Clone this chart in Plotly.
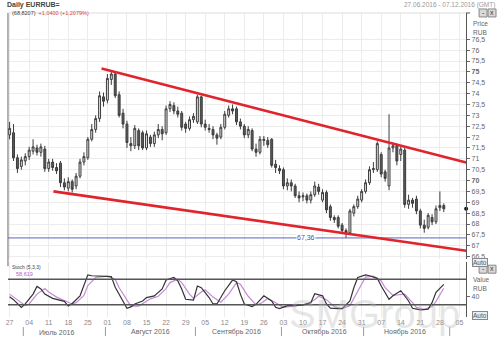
import plotly.graph_objects as go
import pandas as pd

# ---------------- data ----------------
opens = [72.1, 72.2, 71.05, 70.65, 70.9, 71.1, 71.35, 71.5, 71.3, 71.45,
         70.55, 70.85, 70.6, 70.8, 69.9, 69.65, 69.95, 69.75, 70.2, 70.85,
         71.05, 71.9, 72.35, 72.85, 73.85, 73.7, 74.65, 74.9, 73.95, 73.1,
         72.6, 71.7, 71.6, 72.3, 72.2, 71.5, 72.0, 71.7, 72.1, 72.35,
         72.2, 73.3, 73.45, 73.2, 73.1, 72.6, 72.4, 72.8, 72.7, 73.85,
         72.6, 72.4, 72.35, 72.1, 72.0, 72.45, 73.0, 73.3, 73.3, 72.7,
         72.5, 72.1, 72.3, 71.45, 71.3, 71.9, 71.85, 71.9, 70.75, 70.55,
         70.5, 69.75, 69.9, 69.75, 69.3, 69.25, 69.3, 69.1, 69.35, 69.7,
         69.1, 69.45, 68.8, 68.3, 68.3, 67.95, 67.7, 67.6, 68.5, 68.8,
         69.1, 69.5, 69.9, 70.5, 70.5, 71.2, 70.4, 69.75, 71.5, 71.6,
         71.2, 71.4, 68.9, 69.1, 69.15, 68.6, 67.95, 67.85, 68.3, 68.1,
         68.75, 68.85]
closes = [72.4, 71.05, 70.55, 70.95, 71.1, 71.4, 71.55, 71.3, 71.55, 70.55,
          70.85, 70.6, 70.45, 69.9, 69.7, 69.95, 69.6, 70.2, 70.85, 71.1,
          71.9, 72.35, 72.85, 73.9, 73.65, 74.7, 74.9, 73.9, 73.0, 72.6,
          71.75, 71.6, 72.4, 71.6, 71.5, 72.15, 71.7, 72.1, 72.35, 72.15,
          73.3, 73.5, 73.2, 73.05, 72.45, 72.4, 72.8, 72.95, 73.85, 72.6,
          72.45, 72.35, 72.1, 71.95, 72.45, 73.05, 73.3, 73.2, 72.7, 72.5,
          72.1, 72.35, 71.45, 71.3, 71.9, 71.85, 71.65, 70.7, 70.6, 70.45,
          69.75, 69.9, 69.75, 69.3, 69.2, 69.3, 69.1, 69.35, 69.75, 69.5,
          69.45, 68.65, 68.3, 68.2, 67.9, 67.7, 67.6, 68.6, 68.8, 69.15,
          69.5, 69.9, 70.5, 70.55, 71.7, 70.3, 70.1, 71.5, 71.6, 70.9,
          71.45, 68.9, 69.1, 68.95, 68.6, 67.95, 67.8, 68.4, 68.1, 68.7,
          68.85, 68.7]
highs = [72.7, 72.6, 71.2, 71.1, 71.25, 71.55, 71.9, 71.65, 71.7, 71.6,
         71.0, 71.0, 70.8, 70.9, 70.1, 70.15, 70.05, 70.35, 71.0, 71.3,
         72.0, 72.6, 73.0, 74.1, 74.05, 74.9, 75.05, 75.0, 74.1, 73.3,
         72.75, 72.0, 72.55, 72.4, 72.3, 72.3, 72.1, 72.25, 72.6, 72.5,
         73.45, 73.65, 73.6, 73.4, 73.2, 72.7, 72.95, 73.1, 73.95, 73.9,
         72.8, 72.6, 72.5, 72.2, 72.6, 73.2, 73.45, 73.5, 73.4, 72.85,
         72.6, 72.5, 72.4, 71.7, 72.05, 72.05, 72.0, 71.95, 70.95, 70.7,
         70.6, 70.1, 70.05, 69.85, 69.5, 69.45, 69.4, 69.5, 69.95, 69.85,
         69.6, 69.55, 68.9, 68.4, 68.4, 68.05, 67.8, 68.7, 68.9, 69.3,
         69.6, 70.05, 70.65, 70.85, 71.8, 71.3, 70.5, 73.05, 71.75, 71.7,
         71.55, 71.5, 69.35, 69.2, 69.3, 68.7, 68.2, 68.5, 68.45, 68.85,
         69.5, 68.95]
lows = [71.9, 70.9, 70.35, 70.5, 70.7, 70.95, 71.2, 71.15, 71.1, 70.4,
        70.4, 70.45, 70.3, 69.7, 69.55, 69.5, 69.45, 69.6, 70.1, 70.7,
        70.95, 71.8, 72.2, 72.7, 73.4, 73.55, 74.4, 73.8, 72.9, 72.4,
        71.5, 71.35, 71.45, 71.4, 71.4, 71.4, 71.55, 71.55, 71.95, 71.85,
        72.1, 73.15, 73.05, 72.9, 72.3, 72.2, 72.3, 72.65, 72.6, 72.45,
        72.3, 72.2, 71.9, 71.65, 71.9, 72.35, 72.9, 73.05, 72.55, 72.35,
        71.95, 71.95, 71.35, 71.1, 71.2, 71.6, 71.5, 70.6, 70.35, 70.3,
        69.6, 69.55, 69.5, 69.2, 69.0, 69.05, 68.95, 68.95, 69.25, 69.35,
        69.0, 68.5, 68.15, 68.05, 67.8, 67.55, 67.36, 67.5, 68.35, 68.7,
        69.0, 69.4, 69.8, 70.35, 70.4, 70.15, 69.95, 69.55, 71.3, 70.7,
        70.9, 68.75, 68.7, 68.75, 68.45, 67.8, 67.6, 67.75, 67.95, 68.0,
        68.6, 68.55]

# stochastic (5,3,3) readings: trading-day index -> value
k_days = [0, 1, 3, 4, 6, 7, 8, 9, 11, 13, 14, 15, 16, 18, 19, 20, 21, 24, 26, 27,
          29, 30, 31, 32, 34, 35, 37, 39, 40, 42, 43, 44, 45, 47, 48, 49, 51, 52, 53, 55,
          57, 58, 59, 60, 62, 63, 65, 67, 68, 69, 71, 73, 75, 77, 78, 80, 81, 82, 84, 85,
          87, 88, 89, 91, 92, 94, 95, 97, 98, 100, 102, 103, 105, 107, 108, 109, 111]
k_vals = [39, 32, 14, 22, 45, 63, 57, 45, 35, 30, 28, 17, 23, 41, 64, 90, 88, 87, 86, 61,
          29, 12, 15, 22, 29, 37, 41, 57, 78, 84, 76, 57, 33, 31, 64, 60, 37, 22, 22, 53,
          78, 74, 45, 22, 16, 21, 41, 29, 14, 11, 18, 18, 20, 25, 46, 41, 22, 12, 11, 11,
          29, 60, 84, 90, 88, 82, 64, 33, 41, 53, 29, 12, 8, 10, 25, 49, 68]
d_days = [0, 2, 4, 5, 7, 9, 10, 12, 14, 16, 17, 19, 20, 22, 25, 27, 28, 30, 31, 33,
          35, 36, 38, 40, 41, 43, 44, 46, 47, 49, 50, 52, 54, 56, 58, 59, 61, 63, 64, 66,
          68, 70, 72, 74, 76, 78, 79, 81, 83, 85, 87, 88, 90, 91, 93, 95, 96, 98, 99, 101,
          103, 104, 106, 108, 109, 110, 111]
d_vals = [45, 32, 18, 22, 45, 58, 50, 38, 30, 22, 25, 42, 65, 84, 87, 80, 60, 30, 17, 17,
          28, 34, 40, 58, 72, 80, 72, 45, 35, 50, 55, 38, 26, 45, 72, 68, 40, 20, 22, 35,
          25, 14, 16, 18, 21, 32, 40, 32, 16, 11, 18, 35, 70, 85, 87, 76, 60, 42, 43, 45,
          25, 14, 9, 16, 28, 42, 58.6]

upper_x = ["2016-07-28 12:00", "2016-12-06 17:00"]
upper_y = [75.15, 70.83]
lower_x = ["2016-07-12 05:00", "2016-12-06 17:00"]
lower_y = [69.5, 66.77]
support_level = 67.36

price_ticks = [66.5, 67, 67.5, 68, 68.5, 69, 69.5, 70, 70.5, 71, 71.5, 72, 72.5,
               73, 73.5, 74, 74.5, 75, 75.5, 76, 76.5]
price_labels = ["66,5", "67", "67,5", "68", "68,5", "69", "69,5", "<b>70</b>", "70,5",
                "71", "71,5", "72", "72,5", "73", "73,5", "74", "74,5", "<b>75</b>",
                "75,5", "76", "76,5"]
months = ["Июль 2016", "Август 2016", "Сентябрь 2016", "Октябрь 2016", "Ноябрь 2016"]
month_mid = ["2016-07-13", "2016-08-16", "2016-09-15", "2016-10-17 12:00", "2016-11-15"]
month_bounds = ["2016-06-30 12:00", "2016-07-29 12:00", "2016-08-31 12:00",
                "2016-09-30 12:00", "2016-10-31 12:00", "2016-11-30 12:00"]

# ---------------- derived ----------------
dates = pd.bdate_range("2016-06-27", periods=len(closes))
mondays = pd.date_range("2016-06-27", "2016-12-05", freq="7D")
monday_labels = [d.strftime("%d") for d in mondays]
x_range = ["2016-06-24 14:00", "2016-12-06 17:00"]

FONT = "Liberation Sans, Arial, sans-serif"
H = 337.0
W = 500.0


def py(p):
    return 1 - p / H


fig = go.Figure()

fig.add_trace(go.Candlestick(
    x=dates, open=opens, high=highs, low=lows, close=closes,
    increasing=dict(line=dict(color="#3c3c3c", width=1), fillcolor="#e4e4e4"),
    decreasing=dict(line=dict(color="#3c3c3c", width=1), fillcolor="#5c5c5c"),
    whiskerwidth=0, showlegend=False, hoverinfo="skip", xaxis="x", yaxis="y"))

fig.add_trace(go.Scatter(x=x_range, y=[support_level, support_level], mode="lines",
                         line=dict(color="#5b63c9", width=1), showlegend=False,
                         hoverinfo="skip", xaxis="x", yaxis="y"))
fig.add_trace(go.Scatter(x=upper_x, y=upper_y, mode="lines",
                         line=dict(color="#e0242c", width=2.6), showlegend=False,
                         hoverinfo="skip", xaxis="x", yaxis="y"))
fig.add_trace(go.Scatter(x=lower_x, y=lower_y, mode="lines",
                         line=dict(color="#e0242c", width=2.6), showlegend=False,
                         hoverinfo="skip", xaxis="x", yaxis="y"))
fig.add_trace(go.Scatter(x=[x_range[1]], y=[closes[-1]], mode="markers",
                         marker=dict(color="#111", size=4), cliponaxis=False,
                         showlegend=False, hoverinfo="skip", xaxis="x", yaxis="y"))

fig.add_trace(go.Scatter(x=[dates[i] for i in d_days], y=d_vals, mode="lines",
                         line=dict(color="#c58ad6", width=1.2), showlegend=False,
                         hoverinfo="skip", xaxis="x2", yaxis="y2"))
fig.add_trace(go.Scatter(x=[dates[i] for i in k_days], y=k_vals, mode="lines",
                         line=dict(color="#333333", width=1.2), showlegend=False,
                         hoverinfo="skip", xaxis="x2", yaxis="y2"))

xdom = [6 / W, 466 / W]
common_x = dict(type="date", range=x_range, rangebreaks=[dict(bounds=["sat", "mon"])],
                tickvals=list(mondays), ticktext=monday_labels,
                showgrid=True, gridcolor="#ececec", gridwidth=1, zeroline=False,
                showline=False, domain=xdom, fixedrange=True)

fig.update_layout(
    width=500, height=337, margin=dict(l=0, r=0, t=0, b=0),
    paper_bgcolor="white", plot_bgcolor="white",
    font=dict(family=FONT, size=7, color="#555"),
    separators=", ",
    xaxis=dict(common_x, anchor="y", showticklabels=False, rangeslider=dict(visible=False)),
    xaxis2=dict(common_x, anchor="y2", matches="x", showticklabels=True,
                tickfont=dict(size=7, color="#8a8a8a"), ticks=""),
    yaxis=dict(domain=[py(260), py(13)], range=[66.38, 77.71], side="right", anchor="x",
               tickvals=price_ticks, ticktext=price_labels,
               tickfont=dict(size=7, color="#666"), ticks="outside", ticklen=3,
               tickcolor="#666", showline=True, linecolor="#555", linewidth=1,
               showgrid=True, gridcolor="#ececec", zeroline=False, fixedrange=True),
    yaxis2=dict(domain=[py(318), py(263)], range=[-8.7, 119.7], side="right", anchor="x2",
                tickvals=[40], ticktext=["40"], tickfont=dict(size=7, color="#666"),
                ticks="outside", ticklen=3, tickcolor="#666", showline=True,
                linecolor="#555", linewidth=1, showgrid=False, zeroline=False,
                fixedrange=True),
)

shapes = []
# stochastic levels
for lvl in (80, 20):
    shapes.append(dict(type="line", xref="x2 domain", yref="y2", x0=0, x1=1, y0=lvl, y1=lvl,
                       line=dict(color="#555", width=1.5)))
# frame lines
shapes.append(dict(type="line", xref="paper", yref="paper", x0=6 / W, x1=6 / W,
                   y0=py(267), y1=py(13), line=dict(color="#666", width=1)))
shapes.append(dict(type="line", xref="paper", yref="paper", x0=6 / W, x1=466 / W,
                   y0=py(13), y1=py(13), line=dict(color="#dcdcdc", width=1)))
shapes.append(dict(type="line", xref="paper", yref="paper", x0=466 / W, x1=470 / W,
                   y0=py(13), y1=py(13), line=dict(color="#555", width=1)))
# month separators
for b in month_bounds:
    shapes.append(dict(type="line", xref="x2", yref="paper", x0=b, x1=b,
                       y0=py(337), y1=py(328), line=dict(color="#9a9a9a", width=1)))
# buttons
for (x0, y0, x1, y1) in [(479, 9, 487, 17), (488, 9, 496, 17),
                         (479, 266, 487, 274), (488, 266, 496, 274)]:
    shapes.append(dict(type="rect", xref="paper", yref="paper", x0=x0 / W, x1=x1 / W,
                       y0=py(y1), y1=py(y0), line=dict(color="#888", width=1),
                       fillcolor="#d9d9d9"))
fig.update_layout(shapes=shapes)

ann = []


def A(text, x, y, size=7, color="#555", xanchor="left", yanchor="middle", **kw):
    ann.append(dict(text=text, x=x / W, y=py(y), xref="paper", yref="paper",
                    showarrow=False, xanchor=xanchor, yanchor=yanchor,
                    font=dict(size=size, color=color, family=FONT), **kw))


A("<b>Daily EURRUB=</b>", 3, 5, size=7, color="#444")
A("27.06.2016 - 07.12.2016 (GMT)", 497, 5, size=6.5, color="#999", xanchor="right")
A("(68,8207)  <span style='color:#e0404a'>+1,0400 (+1,2079%)</span>", 8, 13, size=5.5,
  color="#444")
A("-", 483, 12.5, size=7, color="#333", xanchor="center")
A("x", 492, 12.5, size=7, color="#333", xanchor="center")
A("-", 483, 269.5, size=7, color="#333", xanchor="center")
A("x", 492, 269.5, size=7, color="#333", xanchor="center")
A("Price", 471, 24, size=6.5, color="#666")
A("RUB", 471, 33, size=6.5, color="#666")
A("Value", 471, 280, size=6.5, color="#666")
A("RUB", 471, 289, size=6.5, color="#666")
A("Auto", 480, 263, size=6.5, color="#555", xanchor="center",
  bordercolor="#888", borderwidth=1, bgcolor="#eeeeee", borderpad=0)
A("Auto", 480, 316, size=6.5, color="#555", xanchor="center",
  bordercolor="#888", borderwidth=1, bgcolor="#eeeeee", borderpad=0)
A("Stoch (5,3,3)", 8, 268, size=5, color="#444")
A("58,619", 12, 274.5, size=5.5, color="#b060c8")

# level label on support line
ann.append(dict(text="67,36", x="2016-10-10 16:00", y=support_level, xref="x", yref="y",
                showarrow=False, xanchor="center", yanchor="middle", bgcolor="white",
                font=dict(size=7, color="#4050b0", family=FONT), borderpad=0))
for m, mid in zip(months, month_mid):
    ann.append(dict(text=m, x=mid, y=py(333), xref="x2", yref="paper", showarrow=False,
                    xanchor="center", yanchor="middle",
                    font=dict(size=7, color="#666", family=FONT)))
# watermark
ann.append(dict(text="SMGroup", x=374 / W, y=py(315), xref="paper", yref="paper",
                showarrow=False, xanchor="center", yanchor="middle",
                font=dict(size=40, color="rgba(185,185,185,0.35)", family=FONT)))
fig.update_layout(annotations=ann)

fig.write_html("out.html", config={"displayModeBar": False})
